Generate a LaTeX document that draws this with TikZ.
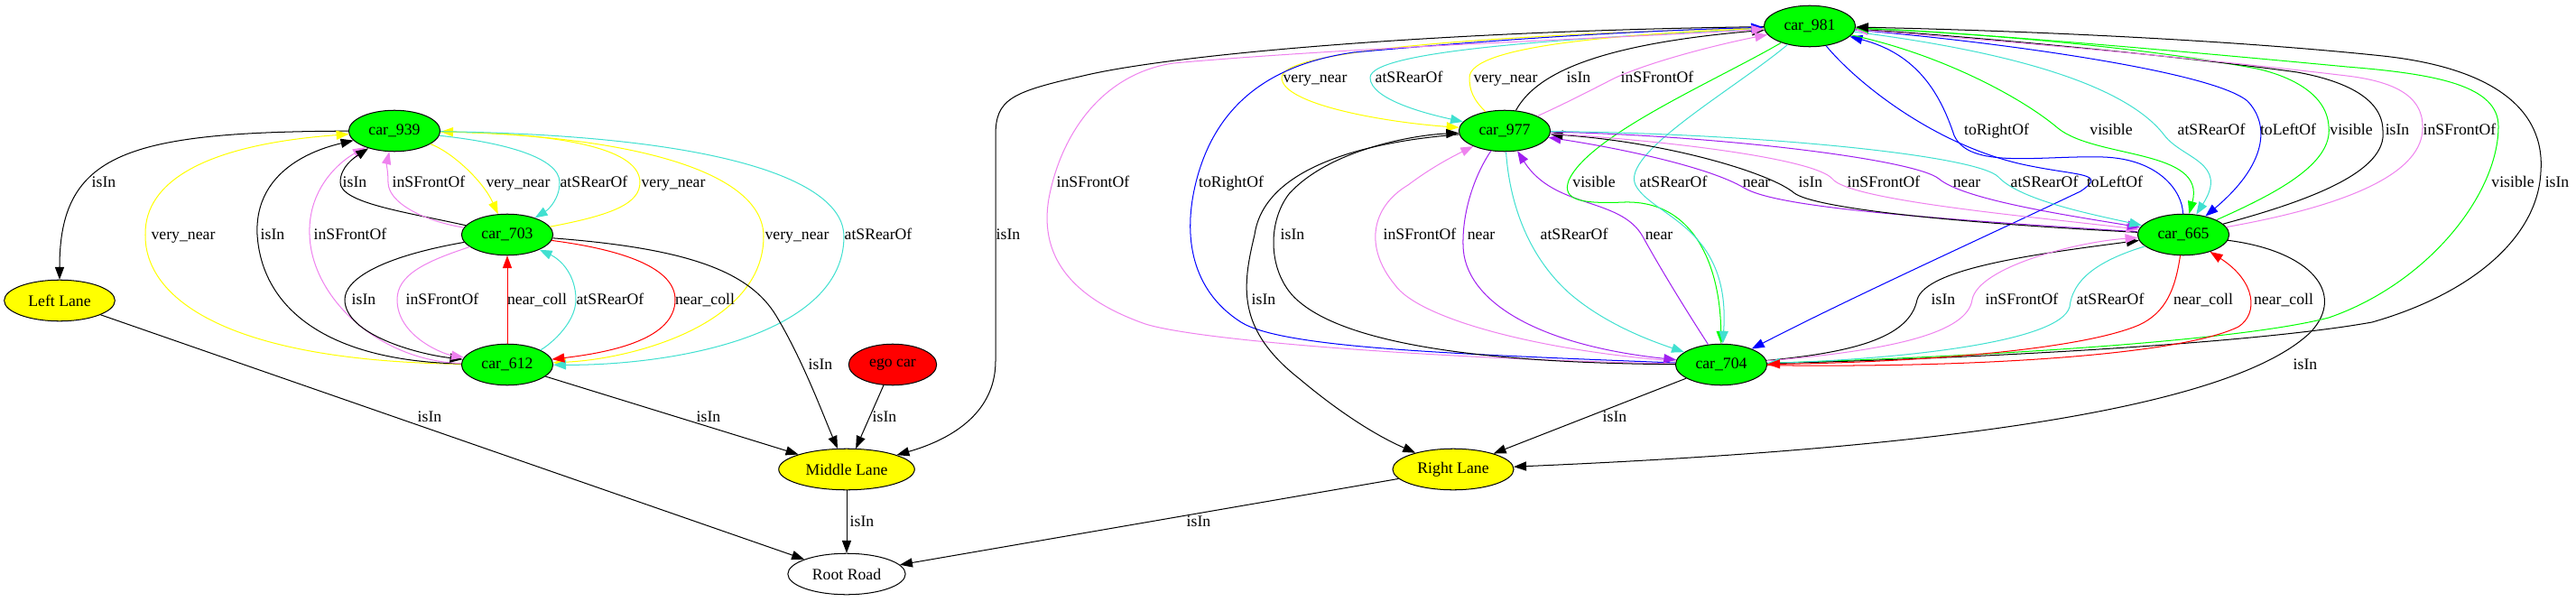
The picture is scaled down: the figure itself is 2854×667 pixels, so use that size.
\documentclass[tikz,border=0pt]{standalone}
\usepackage{fontspec}
\setmainfont{Liberation Serif}
\usepackage{xcolor}
\usepackage{tikz}
\usetikzlibrary{arrows.meta,shapes.geometric}
\definecolor{gvgreen}{HTML}{00FF00}
\definecolor{gvyellow}{HTML}{FFFF00}
\definecolor{gvred}{HTML}{FF0000}
\definecolor{gvturq}{HTML}{40E0D0}
\definecolor{gvviolet}{HTML}{EE82EE}
\definecolor{gvpurple}{HTML}{A020F0}
\definecolor{gvblue}{HTML}{0000FF}
\begin{document}
\begin{tikzpicture}[x=0.7905pt,y=-0.7905pt]

		\tikzset{%
			gvnode/.style   = {draw=black, text=black, ellipse, line width=0.8pt, inner sep=0pt, minimum height=36pt,
				font=\fontsize{14}{16}\selectfont},
			carnode/.style  = {gvnode, fill=gvgreen, minimum width=80pt}, % Fahrzeug
			lanenode/.style = {gvnode, fill=gvyellow}, % Fahrspur
			egonode/.style  = {gvnode, fill=gvred, minimum width=77pt},
			roadnode/.style = {gvnode, minimum width=103pt},
			rel/.style      = {line width=0.8pt, -{Triangle[length=11pt,width=8pt]}},
			lbl/.style      = {text=black, inner sep=0pt, text height=10pt, text depth=1pt,
				font=\fontsize{14}{16}\selectfont}
		}
		\useasboundingbox (0,0) rectangle (2854,667);

		% Knoten
		\node[carnode] (c939) at (437,145) {car\_939};
		\node[carnode] (c703) at (562,260) {car\_703};
		\node[carnode] (c612) at (562,404) {car\_612};
		\node[lanenode, minimum width=97pt] (lleft) at (66,333) {Left Lane};
		\node[egonode] (ego) at (989,404) {ego car};
		\node[lanenode, minimum width=119pt] (lmid) at (938,520) {Middle Lane};
		\node[roadnode] (root) at (938,636) {Root Road};
		\node[carnode] (c977) at (1667,145) {car\_977};
		\node[carnode] (c981) at (2005,29) {car\_981};
		\node[carnode] (c665) at (2419,260) {car\_665};
		\node[carnode] (c704) at (1907,404) {car\_704};
		\node[lanenode, minimum width=106pt] (lright) at (1610,520) {Right Lane};

		% Kanten links
		\draw[rel] (c939) .. controls (140,146) and (66,170) .. (lleft) node[lbl] at (115,202) {isIn};
		\draw[rel, gvyellow] (c612) .. controls (250,400) and (160,330) .. (161,260) .. controls (160,200) and (230,160) .. (c939) node[lbl] at (203,260) {very\_near};
		\draw[rel] (c612) .. controls (360,400) and (290,340) .. (285,260) .. controls (282,200) and (330,170) .. (c939) node[lbl] at (302,260) {isIn};
		\draw[rel, gvviolet] (c612) .. controls (420,400) and (345,330) .. (343,260) .. controls (341,210) and (375,180) .. (c939) node[lbl] at (388,260) {inSFrontOf};
		\draw[rel] (c703) .. controls (450,235) and (377,225) .. (377,202) .. controls (377,185) and (392,175) .. (c939) node[lbl] at (393,202) {isIn};
		\draw[rel, gvviolet] (c703) .. controls (470,245) and (430,225) .. (430,202) .. controls (430,190) and (428,182) .. (c939) node[lbl] at (475,202) {inSFrontOf};
		\draw[rel, gvyellow] (c939) .. controls (500,168) and (535,200) .. (c703) node[lbl] at (574,202) {very\_near};
		\draw[rel, gvturq] (c939) .. controls (560,158) and (620,175) .. (620,202) .. controls (620,220) and (608,232) .. (c703) node[lbl] at (658,202) {atSRearOf};
		\draw[rel, gvyellow] (c703) .. controls (680,238) and (709,225) .. (709,202) .. controls (709,160) and (600,148) .. (c939) node[lbl] at (746,202) {very\_near};
		\draw[rel, gvyellow] (c939) .. controls (700,150) and (846,190) .. (846,262) .. controls (846,360) and (700,398) .. (c612) node[lbl] at (883,260) {very\_near};
		\draw[rel, gvturq] (c939) .. controls (800,150) and (935,200) .. (935,262) .. controls (935,370) and (750,405) .. (c612) node[lbl] at (973,260) {atSRearOf};
		\draw[rel] (c703) .. controls (420,285) and (382,310) .. (382,332) .. controls (382,370) and (460,392) .. (c612) node[lbl] at (403,332) {isIn};
		\draw[rel, gvviolet] (c703) .. controls (470,290) and (440,305) .. (440,332) .. controls (440,372) and (490,392) .. (c612) node[lbl] at (490,332) {inSFrontOf};
		\draw[rel, gvred] (c612) -- (c703) node[lbl] at (595,332) {near\_coll};
		\draw[rel, gvturq] (c612) .. controls (605,385) and (638,360) .. (638,332) .. controls (638,305) and (622,288) .. (c703) node[lbl] at (676,332) {atSRearOf};
		\draw[rel, gvred] (c703) .. controls (700,278) and (748,300) .. (748,332) .. controls (748,375) and (680,390) .. (c612) node[lbl] at (781,332) {near\_coll};
		\draw[rel] (c703) .. controls (760,275) and (830,300) .. (860,350) .. controls (890,400) and (912,460) .. (lmid) node[lbl] at (909,404) {isIn};
		\draw[rel] (c612) -- (lmid) node[lbl] at (785,462) {isIn};
		\draw[rel] (ego) -- (lmid) node[lbl] at (980,462) {isIn};
		\draw[rel] (c981) .. controls (1600,34) and (1300,60) .. (1200,84) .. controls (1120,102) and (1103,110) .. (1103,150) -- (1103,400) .. controls (1103,460) and (1050,488) .. (lmid) node[lbl] at (1117,260) {isIn};
		\draw[rel] (lleft) -- (root) node[lbl] at (476,462) {isIn};
		\draw[rel] (lmid) -- (root) node[lbl] at (955,578) {isIn};
		\draw[rel] (lright) -- (root) node[lbl] at (1328,578) {isIn};

		% Kanten rechts
		\draw[rel, gvyellow] (c981) .. controls (1700,38) and (1420,52) .. (1420,86) .. controls (1420,115) and (1530,135) .. (c977) node[lbl] at (1457,86) {very\_near};
		\draw[rel, gvturq] (c981) .. controls (1750,42) and (1518,55) .. (1518,86) .. controls (1518,110) and (1580,126) .. (c977) node[lbl] at (1561,86) {atSRearOf};
		\draw[rel, gvyellow] (c977) .. controls (1632,110) and (1628,100) .. (1628,86) .. controls (1628,50) and (1800,38) .. (c981) node[lbl] at (1668,86) {very\_near};
		\draw[rel] (c977) .. controls (1700,85) and (1760,50) .. (c981) node[lbl] at (1749,86) {isIn};
		\draw[rel, gvviolet] (c977) .. controls (1740,112) and (1770,96) .. (1790,86) .. controls (1830,68) and (1900,50) .. (c981) node[lbl] at (1836,86) {inSFrontOf};
		\draw[rel, gvblue] (c704) .. controls (1600,392) and (1420,385) .. (1375,357) .. controls (1320,322) and (1310,262) .. (1325,202) .. controls (1345,122) and (1400,72) .. (1500,58) .. controls (1700,40) and (1850,33) .. (c981) node[lbl] at (1364,202) {toRightOf};
		\draw[rel, gvviolet] (c704) .. controls (1600,398) and (1330,378) .. (1269,359) .. controls (1195,333) and (1150,290) .. (1162,220) .. controls (1175,150) and (1220,82) .. (1300,70) .. controls (1500,52) and (1800,42) .. (c981) node[lbl] at (1211,202) {inSFrontOf};
		\draw[rel] (c704) .. controls (1600,402) and (1470,372) .. (1430,325) .. controls (1405,295) and (1405,245) .. (1428,215) .. controls (1470,168) and (1560,150) .. (c977) node[lbl] at (1432,260) {isIn};
		\draw[rel] (c977) .. controls (1500,158) and (1400,190) .. (1390,260) .. controls (1376,318) and (1370,365) .. (1440,420) .. controls (1490,462) and (1530,485) .. (lright) node[lbl] at (1400,332) {isIn};
		\draw[rel] (c704) -- (lright) node[lbl] at (1789,462) {isIn};
		\draw[rel] (c665) .. controls (2560,278) and (2600,325) .. (2560,368) .. controls (2480,445) and (2200,495) .. (lright) node[lbl] at (2554,404) {isIn};
		\draw[rel, gvviolet] (c704) .. controls (1700,388) and (1570,352) .. (1545,315) .. controls (1512,275) and (1518,230) .. (1560,205) .. controls (1580,190) and (1600,178) .. (c977) node[lbl] at (1573,260) {inSFrontOf};
		\draw[rel, gvpurple] (c977) .. controls (1635,192) and (1620,232) .. (1621,272) .. controls (1622,332) and (1700,382) .. (c704) node[lbl] at (1641,260) {near};
		\draw[rel, gvturq] (c977) .. controls (1672,220) and (1690,282) .. (1740,326) .. controls (1780,360) and (1830,378) .. (c704) node[lbl] at (1744,260) {atSRearOf};
		\draw[rel, gvpurple] (c704) .. controls (1872,350) and (1842,302) .. (1820,262) .. controls (1795,218) and (1722,232) .. (c977) node[lbl] at (1838,260) {near};
		\draw[rel, gvgreen] (c981) .. controls (1900,90) and (1760,150) .. (1738,200) .. controls (1730,222) and (1752,226) .. (1800,224) .. controls (1880,222) and (1906,300) .. (c704) node[lbl] at (1766,202) {visible};
		\draw[rel, gvturq] (c981) .. controls (1920,100) and (1795,170) .. (1812,205) .. controls (1830,240) and (1918,250) .. (c704) node[lbl] at (1854,202) {atSRearOf};
		\draw[rel, gvblue] (c981) .. controls (2060,95) and (2150,165) .. (2250,184) .. controls (2305,195) and (2335,192) .. (2305,212) .. controls (2200,262) and (2050,330) .. (c704) node[lbl] at (2343,202) {toLeftOf};
		\draw[rel, gvblue] (c665) .. controls (2418,212) and (2392,176) .. (2330,174) .. controls (2260,172) and (2182,188) .. (2165,150) .. controls (2150,105) and (2125,60) .. (c981) node[lbl] at (2212,144) {toRightOf};
		\draw[rel, gvblue] (c981) .. controls (2200,45) and (2450,78) .. (2490,112) .. controls (2515,138) and (2512,182) .. (c665) node[lbl] at (2535,144) {toLeftOf};
		\draw[rel, gvpurple] (c665) .. controls (2100,240) and (1965,228) .. (1932,208) .. controls (1895,186) and (1800,165) .. (c977) node[lbl] at (1946,202) {near};
		\draw[rel] (c665) .. controls (2150,246) and (2010,230) .. (1988,214) .. controls (1962,192) and (1850,158) .. (c977) node[lbl] at (2006,202) {isIn};
		\draw[rel, gvviolet] (c977) .. controls (1850,156) and (2010,176) .. (2030,198) .. controls (2048,222) and (2250,240) .. (c665) node[lbl] at (2087,202) {inSFrontOf};
		\draw[rel, gvpurple] (c977) .. controls (1900,150) and (2120,176) .. (2148,198) .. controls (2176,222) and (2300,240) .. (c665) node[lbl] at (2179,202) {near};
		\draw[rel, gvturq] (c977) .. controls (1950,148) and (2190,172) .. (2214,196) .. controls (2238,222) and (2320,238) .. (c665) node[lbl] at (2265,202) {atSRearOf};
		\draw[rel, gvgreen] (c981) .. controls (2150,60) and (2240,108) .. (2280,142) .. controls (2322,176) and (2445,165) .. (c665) node[lbl] at (2339,144) {visible};
		\draw[rel, gvturq] (c981) .. controls (2250,60) and (2360,100) .. (2398,150) .. controls (2418,176) and (2470,180) .. (c665) node[lbl] at (2450,144) {atSRearOf};
		\draw[rel, gvgreen] (c665) .. controls (2520,215) and (2585,182) .. (2580,140) .. controls (2578,105) and (2540,85) .. (2500,76) .. controls (2350,48) and (2150,35) .. (c981) node[lbl] at (2605,144) {visible};
		\draw[rel] (c665) .. controls (2560,222) and (2645,190) .. (2640,145) .. controls (2640,110) and (2600,90) .. (2545,80) .. controls (2400,60) and (2150,38) .. (c981) node[lbl] at (2656,144) {isIn};
		\draw[rel, gvviolet] (c665) .. controls (2600,228) and (2686,192) .. (2684,140) .. controls (2684,105) and (2650,90) .. (2600,84) .. controls (2400,60) and (2150,40) .. (c981) node[lbl] at (2725,144) {inSFrontOf};
		\draw[rel, gvgreen] (c704) .. controls (2200,395) and (2480,378) .. (2580,352) .. controls (2690,314) and (2768,215) .. (2768,140) .. controls (2768,95) and (2700,82) .. (2600,74) .. controls (2400,55) and (2180,36) .. (c981) node[lbl] at (2784,202) {visible};
		\draw[rel] (c704) .. controls (2200,397) and (2500,380) .. (2628,357) .. controls (2740,325) and (2812,262) .. (2815,190) .. controls (2820,120) and (2760,75) .. (2640,62) .. controls (2450,42) and (2200,33) .. (c981) node[lbl] at (2833,202) {isIn};
		\draw[rel] (c704) .. controls (2060,390) and (2116,372) .. (2124,332) .. controls (2134,298) and (2250,282) .. (c665) node[lbl] at (2153,332) {isIn};
		\draw[rel, gvviolet] (c704) .. controls (2100,388) and (2180,368) .. (2185,332) .. controls (2192,296) and (2300,268) .. (c665) node[lbl] at (2240,332) {inSFrontOf};
		\draw[rel, gvturq] (c665) .. controls (2320,290) and (2296,312) .. (2293,340) .. controls (2282,380) and (2100,398) .. (c704) node[lbl] at (2338,332) {atSRearOf};
		\draw[rel, gvred] (c665) .. controls (2410,320) and (2400,346) .. (2370,360) .. controls (2300,390) and (2100,402) .. (c704) node[lbl] at (2441,332) {near\_coll};
		\draw[rel, gvred] (c704) .. controls (2200,408) and (2420,392) .. (2480,362) .. controls (2502,348) and (2500,312) .. (c665) node[lbl] at (2530,332) {near\_coll};
\end{tikzpicture}
\end{document}
